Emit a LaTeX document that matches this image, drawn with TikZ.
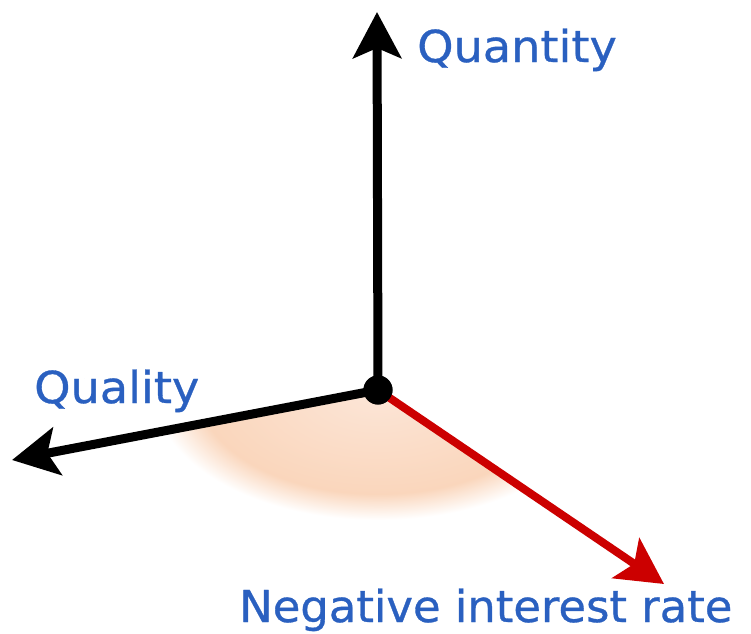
\documentclass[tikz,border=0pt]{standalone}
\usepackage{fontspec}
\setmainfont{DejaVu Sans}
\newfontfamily\labelfont[FakeBold=0.7]{DejaVu Sans}
\usetikzlibrary{arrows.meta}
\definecolor{axisblue}{RGB}{42,96,192}
\definecolor{axisred}{RGB}{204,0,0}
\definecolor{fanA}{RGB}{252,230,216}
\definecolor{fanB}{RGB}{250,214,188}
\pgfdeclareradialshading{fanshade}{\pgfpoint{0bp}{0bp}}{color(0bp)=(fanA); color(20bp)=(fanB); color(25bp)=(white); color(50bp)=(white)}
\begin{document}
\begin{tikzpicture}[x=1pt,y=-1pt,
  axisline/.style={line width=9pt},
  bigtip/.style={-{Stealth[length=46pt,width=48pt,inset=10pt]}},
  axislabel/.style={text=axisblue,font=\labelfont\fontsize{44}{52}\selectfont,anchor=base west,inner sep=0pt}]
\useasboundingbox (0,0) rectangle (751,633);
\fill[white] (0,0) rectangle (751,633);
% fan
\begin{scope}
  \clip (378,390) -- (150,434) -- (150,633) -- (751,633) -- (751,640) -- cycle;
  \shade[shading=fanshade] (378,390) ellipse [x radius=225, y radius=130];
\end{scope}
\coordinate (top) at (377,12);
\coordinate (left) at (12,460);
\coordinate (right) at (664,584);
\node[circle,fill=black,minimum size=29pt,inner sep=0pt] (O) at (378,390) {};
\draw[axisline,bigtip] (O.center) -- (top);
\draw[axisline,bigtip] (O.center) -- (left);
\draw[axisline,line width=8pt,axisred,bigtip] (O.center) -- (right);
\node[circle,fill=black,minimum size=29pt,inner sep=0pt] at (O) {};
\node[axislabel] (lq) at (417,62) {\scalebox{1.05}[1]{Quantity}};
\node[axislabel] (ll) at (34,403) {\scalebox{1.05}[1]{Quality}};
\node[axislabel] (ln) at (239,622) {\scalebox{1.02}[1]{Negative interest rate}};
\end{tikzpicture}
\end{document}
